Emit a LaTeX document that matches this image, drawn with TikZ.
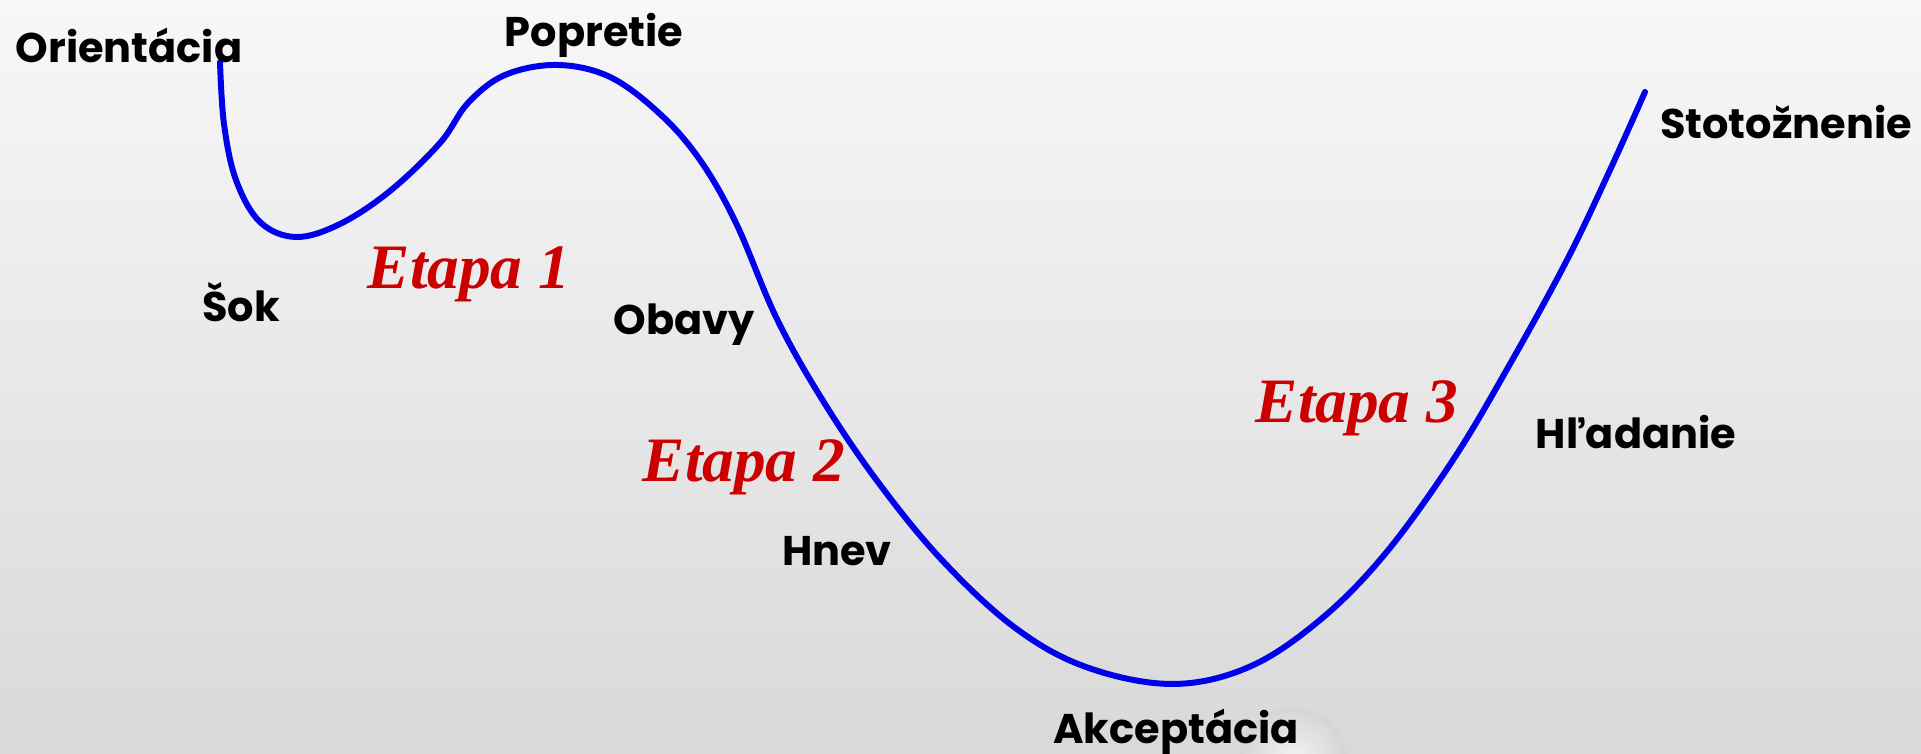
\documentclass[tikz,border=0pt]{standalone}
\usepackage{fontspec}
\setmainfont{Liberation Serif}
\newfontfamily\stagefont{Poppins}
\usepackage{tikz}
\usetikzlibrary{positioning}
\definecolor{curveblue}{RGB}{0,0,235}
\definecolor{etapared}{RGB}{204,0,0}
\tikzset{
  stage/.style ={font=\stagefont\bfseries\fontsize{11.8}{14}\selectfont,inner sep=0pt},
  etapa/.style ={font=\bfseries\itshape\fontsize{18}{21}\selectfont,text=etapared,inner sep=0pt},
  curve/.style ={draw=curveblue,line width=1.7pt,line cap=round,line join=round},
}
\begin{document}
\begin{tikzpicture}
\useasboundingbox (0,0) rectangle (19.21,7.54);
\shade[top color=black!3,bottom color=black!15] (0,0) rectangle (19.21,7.54);
% faint bubble at the bottom
\shade[inner color=white,outer color=black!17,opacity=0.7] (12.93,-0.07) circle (0.54);
% the change curve
\draw[curve] plot[smooth,tension=0.6] coordinates {
  (2.20,6.92) (2.24,6.30) (2.36,5.74) (2.60,5.32) (2.96,5.17) (3.40,5.30)
  (3.90,5.63) (4.40,6.11) (4.68,6.51) (5.05,6.79) (5.57,6.89) (6.10,6.77)
  (6.60,6.40) (7.00,5.94) (7.36,5.31) (7.76,4.37) (8.20,3.58) (8.75,2.76)
  (9.40,1.96) (10.14,1.27) (10.86,0.87) (11.72,0.70) (12.49,0.87) (13.20,1.34)
  (13.85,2.00) (14.53,2.94) (15.10,3.90) (15.67,4.94) (16.10,5.84) (16.45,6.62)};
% stages
\node[stage] (orient) at (1.29,7.09) {Orientácia};
\node[stage] (popr) at (5.94,7.19) {Popretie};
\node[stage] (sok) at (2.41,4.52) {Šok};
\node[stage] (obavy) at (6.84,4.29) {Obavy};
\node[stage] (hnev) at (8.37,2.03) {Hnev};
\node[stage] (akcept) at (11.76,0.22) {Akceptácia};
\node[stage] (hladanie) at (16.36,3.22) {Hľadanie};
\node[stage] (stotoz) at (17.86,6.32) {Stotožnenie};
% etapy
\node[etapa] (e1) at (4.69,4.80) {Etapa 1};
\node[etapa] (e2) at (7.44,2.87) {Etapa 2};
\node[etapa] (e3) at (13.57,3.46) {Etapa 3};
\end{tikzpicture}
\end{document}
